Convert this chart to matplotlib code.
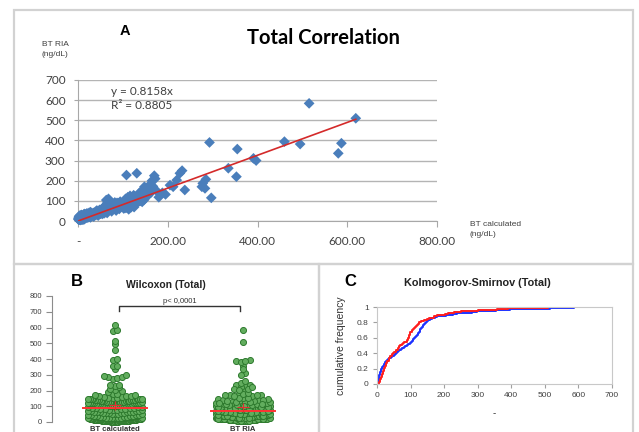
import numpy as np
import matplotlib
matplotlib.use("Agg")
import matplotlib.pyplot as plt
from matplotlib.patches import Rectangle

plt.rcParams['font.family'] = ['Liberation Sans', 'DejaVu Sans']

# paired measurements (ng/dL): calculated BT vs BT by RIA
bt_calc = [
    1, 1, 2, 2, 2, 3, 3, 3, 3, 4, 4, 4, 4, 4, 5, 5, 5, 5, 5, 5,
    6, 6, 7, 7, 8, 8, 8, 9, 9, 10, 10, 10, 11, 11, 12, 12, 12, 13, 13, 14, 14, 14, 15, 15,
    16, 17, 17, 18, 19, 20, 20, 21, 22, 23, 24, 24, 25, 26, 26, 27, 28, 28, 29, 30,
    32, 34, 35, 37, 39, 40, 42, 44, 45, 47, 48, 50,
    51, 53, 54, 56, 57, 58, 60, 61, 62, 63, 64, 65, 66, 67, 68, 70,
    72, 74, 75, 77, 79, 80, 82, 84, 85, 87, 89, 90, 92, 94, 96, 98,
    100, 101, 102, 103, 104, 105, 106, 107, 108, 108, 109, 110, 111, 112, 113, 114, 115, 116, 117, 118,
    118, 119, 120, 121, 122, 122, 123, 124, 125, 125, 126, 127, 127, 128, 128, 129, 129, 130, 130, 131,
    132, 133, 134, 135, 136, 137, 138, 139, 140, 141, 142, 143, 144, 145, 146, 147, 148, 148, 149, 150,
    152, 155, 157, 160, 162, 165, 167, 170,
    172, 175, 180, 188, 195,
    205, 212, 220, 227, 232, 238, 276, 278, 283, 285, 293, 297, 335, 353, 355, 391, 397,
    460, 495, 515, 580, 587, 619,
]
bt_ria = [
    8, 14, 6, 20, 11, 9, 16, 25, 12, 7, 18, 10, 22, 13, 15, 28, 9, 19, 12, 24,
    5, 12, 8, 21, 14, 30, 9, 17, 26, 11, 19, 7, 23, 15, 8, 28, 18, 13, 33, 9, 20, 16, 24, 35,
    14, 22, 31, 18, 27, 16, 38, 24, 20, 33, 19, 29, 41, 23, 35, 26, 18, 44, 30, 37,
    28, 40, 22, 35, 46, 31, 52, 38, 27, 44, 55, 36,
    42, 58, 35, 66, 48, 38, 75, 52, 44, 104, 60, 40, 92, 55, 110, 63,
    58, 64, 48, 68, 62, 72, 92, 66, 52, 90, 66, 88, 60, 96, 76, 86,
    74, 95, 62, 98, 88, 65, 110, 92, 228, 67, 96, 79, 118, 90, 58, 99, 77, 125, 93, 68,
    104, 94, 97, 115, 76, 100, 92, 128, 69, 96, 108, 98, 122, 92, 87, 106, 94, 88, 99, 237,
    108, 96, 125, 112, 98, 140, 118, 100, 132, 110, 150, 95, 126, 115, 145, 105, 120, 170, 112, 124,
    148, 125, 165, 180, 140, 200, 172, 225,
    210, 150, 118, 140, 132,
    178, 170, 203, 237, 250, 154, 170, 187, 162, 207, 390, 115, 262, 220, 357, 311, 300,
    394, 382, 584, 336, 386, 510,
]
slope = 0.8158
r2 = 0.8805
groups = ['BT calculated', 'BT RIA']

calc = np.array(bt_calc, dtype=float)
ria = np.array(bt_ria, dtype=float)

W, H = 639, 432
fig = plt.figure(figsize=(W / 100, H / 100), dpi=100)


def fx(px):
    return px / W


def fy(py):
    return 1 - py / H


def box(x0, y0, x1, y1):
    return [fx(x0), fy(y1), (x1 - x0) / W, (y1 - y0) / H]


# panel frames
for x0, y0, x1, y1 in [(14, 10, 633, 264), (14, 264, 319, 440), (319, 264, 633, 440)]:
    fig.add_artist(Rectangle((fx(x0), fy(y1)), (x1 - x0) / W, (y1 - y0) / H,
                             transform=fig.transFigure, fill=False,
                             ec='#d2d2d2', lw=1.6))

grey_txt = '#404040'

# ---- A: correlation scatter
ax = fig.add_axes(box(78, 80, 437, 221))
ax.set_xlim(0, 800)
ax.set_ylim(0, 700)
ax.yaxis.grid(True, color='#b4b4b4', lw=1.0)
ax.set_axisbelow(True)
for s in ['top', 'right']:
    ax.spines[s].set_visible(False)
for s in ['left', 'bottom']:
    ax.spines[s].set_color('#a8a8a8')
ax.set_xticks(range(0, 801, 200))
ax.set_xticklabels(['-', '200.00', '400.00', '600.00', '800.00'])
ax.set_yticks(range(0, 701, 100))
ax.tick_params(axis='x', length=4, color='#a8a8a8', pad=7, labelsize=8.5, labelcolor=grey_txt)
ax.tick_params(axis='y', length=3, color='#a8a8a8', pad=6, labelsize=8.5, labelcolor=grey_txt)
for t in ax.get_xticklabels() + ax.get_yticklabels():
    t.set_family(['Lato', 'DejaVu Sans'])
ax.scatter(calc, ria, marker='D', s=30, color='#4a7ebb', edgecolors='none', zorder=3, clip_on=False)
xs = np.array([calc.min(), calc.max()])
ax.plot(xs, slope * xs, color='#d42a2a', lw=1.2, zorder=4)
ax.text(73, 668, 'y = %.4fx\nR² = %.4f' % (slope, r2), fontsize=8.5, color=grey_txt,
        family=['Lato', 'DejaVu Sans'], va='top', linespacing=1.3)

fig.text(fx(125), fy(31), 'A', fontsize=10.5, fontweight='bold', ha='center', va='center')
fig.text(fx(323), fy(38), 'Total Correlation', fontsize=14.5, fontweight='bold',
         ha='center', va='center', family=['Lato', 'DejaVu Sans'])
fig.text(fx(42), fy(50), 'BT RIA\n(ng/dL)', fontsize=6, color=grey_txt, ha='left', va='center',
         linespacing=1.6)
fig.text(fx(470), fy(229), 'BT calculated\n(ng/dL)', fontsize=6, color=grey_txt, ha='left',
         va='center', linespacing=1.6)

# ---- B: Wilcoxon scatter dot plot
bx = fig.add_axes(box(52, 296, 300, 422))
bx.set_xlim(-0.492, 1.445)
bx.set_ylim(0, 800)
for s in ['top', 'right', 'bottom']:
    bx.spines[s].set_visible(False)
bx.spines['left'].set_color('#8c8c8c')
bx.set_yticks(range(0, 801, 100))
bx.tick_params(axis='y', length=4, color='#8c8c8c', pad=3, labelsize=5.5, labelcolor=grey_txt)
bx.set_xticks([0, 1])
bx.set_xticklabels(groups, fontsize=5.5, fontweight='bold', color='#303030')
bx.tick_params(axis='x', length=0, pad=3)


def dot_offsets(vals, bin_w=25.0, step_px=4.5, max_px=54.0, px_per_unit=128.0):
    vals = np.asarray(vals)
    offs = np.zeros(len(vals))
    bins = np.floor(vals / bin_w).astype(int)
    for b in np.unique(bins):
        idx = np.where(bins == b)[0]
        idx = idx[np.argsort(vals[idx], kind='stable')]
        n = len(idx)
        if n == 1:
            continue
        width = min((n - 1) * step_px, max_px)
        slots = np.linspace(-width / 2, width / 2, n)
        offs[idx] = slots[np.argsort(np.abs(slots), kind='stable')]
    return offs / px_per_unit


for i, vals in enumerate([calc, ria]):
    off = dot_offsets(vals)
    bx.scatter(i + off, vals, s=19, color='#62ad5e', edgecolors='#2e7a2e', linewidths=0.7,
               zorder=3, clip_on=False)
    med = np.median(vals)
    bx.plot([i - 0.25, i + 0.25], [med, med], color='#ff3333', lw=1.4, zorder=4)
    bx.errorbar(i, vals.mean(), yerr=28, xerr=0.045, color='#e03030', lw=0.8, zorder=5)

bx.plot([0.03, 0.03, 0.98, 0.98], [705, 735, 735, 705], color='#333333', lw=1.0, clip_on=False)
bx.text(0.505, 745, 'p< 0,0001', fontsize=5.5, ha='center', va='bottom', color='#333333')

fig.text(fx(77), fy(281), 'B', fontsize=12, fontweight='bold', ha='center', va='center')
fig.text(fx(166), fy(285), 'Wilcoxon (Total)', fontsize=7.5, fontweight='bold',
         ha='center', va='center', color='#222222')

# ---- C: Kolmogorov-Smirnov cumulative frequency
cx = fig.add_axes(box(377, 307, 612, 384))
cx.set_xlim(0, 700)
cx.set_ylim(0, 1)
for s in cx.spines.values():
    s.set_color('#c8c8c8')
    s.set_linewidth(0.8)
cx.set_xticks(range(0, 701, 100))
cx.set_yticks([0, 0.2, 0.4, 0.6, 0.8, 1])
cx.set_yticklabels(['0', '0.2', '0.4', '0.6', '0.8', '1'])
cx.tick_params(length=3, color='#a0a0a0', labelsize=6, labelcolor=grey_txt, pad=3)
for vals, col in [(calc, '#1e32ff'), (ria, '#ff1e1e')]:
    v = np.sort(vals)
    f = np.arange(1, len(v) + 1) / len(v)
    cx.step(np.r_[v[0], v], np.r_[0, f], where='post', color=col, lw=1.4)
cx.set_ylabel('cumulative frequency', fontsize=7.5, color='#333333', labelpad=8)
cx.set_xlabel('-', fontsize=7, color='#333333', labelpad=6)

fig.text(fx(350), fy(281), 'C', fontsize=12, fontweight='bold', ha='center', va='center')
fig.text(fx(477), fy(283), 'Kolmogorov-Smirnov (Total)', fontsize=7.8, fontweight='bold',
         ha='center', va='center', color='#222222')

fig.savefig('out.png', dpi=100)
